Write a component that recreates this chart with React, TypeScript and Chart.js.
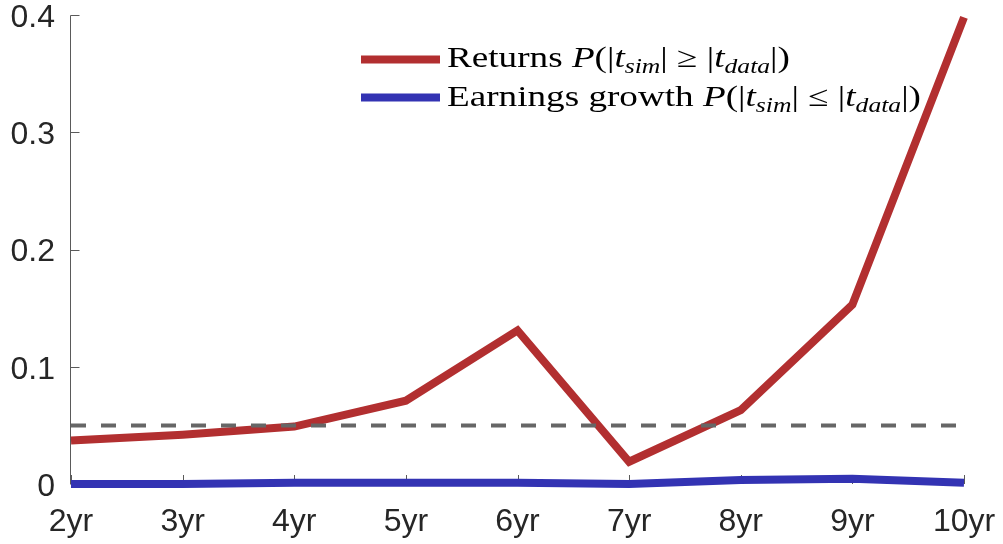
import React, { useEffect, useRef } from "react";
import { Chart, registerables } from "chart.js";

Chart.register(...registerables);

// ---------- data ----------
const horizons = ["2yr", "3yr", "4yr", "5yr", "6yr", "7yr", "8yr", "9yr", "10yr"];
const returnsP = [0.037, 0.042, 0.049, 0.071, 0.131, 0.019, 0.063, 0.153, 0.398];
const earningsP = [0.0, 0.0, 0.001, 0.001, 0.001, 0.0, 0.0035, 0.0045, 0.001];
const significance = [0.05, 0.05, 0.05, 0.05, 0.05, 0.05, 0.05, 0.05, 0.05];
const yTickValues = [0, 0.1, 0.2, 0.3, 0.4];
const yTickLabels = ["0", "0.1", "0.2", "0.3", "0.4"];

type Seg = { t: string; it?: boolean; sub?: boolean };
const returnsLabel: Seg[] = [
  { t: "Returns " },
  { t: "P", it: true },
  { t: "(|" },
  { t: "t", it: true },
  { t: "sim", it: true, sub: true },
  { t: "| \u2265 |" },
  { t: "t", it: true },
  { t: "data", it: true, sub: true },
  { t: "|)" },
];
const earningsLabel: Seg[] = [
  { t: "Earnings growth " },
  { t: "P", it: true },
  { t: "(|" },
  { t: "t", it: true },
  { t: "sim", it: true, sub: true },
  { t: "| \u2264 |" },
  { t: "t", it: true },
  { t: "data", it: true, sub: true },
  { t: "|)" },
];

// ---------- style ----------
const RED = "#b22f30";
const BLUE = "#3333b3";
const GRAY = "#666666";
const TEXT = "#262626";
const AXIS = "#5a5a5a";
const SANS = '"Liberation Sans", Arial, Helvetica, sans-serif';
const SERIF = '"Liberation Serif", "Times New Roman", serif';

const axesPlugin = {
  id: "matlabAxes",
  beforeDatasetsDraw(chart: any) {
    const { ctx, chartArea } = chart;
    const xs = chart.scales.x;
    const ys = chart.scales.y;
    const ax = Math.round(chartArea.left) - 0.5;
    const bottom = ys.getPixelForValue(0);
    ctx.save();
    ctx.strokeStyle = AXIS;
    ctx.lineWidth = 1;
    ctx.beginPath();
    ctx.moveTo(ax, Math.round(ys.getPixelForValue(0.4)) + 0.5);
    ctx.lineTo(ax, bottom);
    yTickValues.forEach((v) => {
      const py = Math.round(ys.getPixelForValue(v)) + 0.5;
      ctx.moveTo(ax, py);
      ctx.lineTo(ax + 9, py);
    });
    horizons.forEach((_, i) => {
      const px = Math.round(xs.getPixelForValue(i)) + 0.5;
      ctx.moveTo(px, bottom);
      ctx.lineTo(px, bottom - 9);
    });
    ctx.stroke();
    ctx.restore();
  },
};

const legendPlugin = {
  id: "mathLegend",
  afterDraw(chart: any) {
    const { ctx } = chart;
    const size = 29;
    const fontFor = (s: Seg) =>
      `${s.it ? "italic " : ""}${s.sub ? Math.round(size * 0.7) : size}px ${SERIF}`;
    const measure = (segs: Seg[]) =>
      segs.reduce((w, s) => {
        ctx.font = fontFor(s);
        return w + ctx.measureText(s.t).width;
      }, 0);
    const k = 474 / measure(earningsLabel);
    const entries = [
      { segs: returnsLabel, color: RED, ly: 59.5, by: 67 },
      { segs: earningsLabel, color: BLUE, ly: 97.5, by: 106 },
    ];
    ctx.save();
    entries.forEach((e) => {
      ctx.strokeStyle = e.color;
      ctx.lineWidth = 8;
      ctx.lineCap = "butt";
      ctx.beginPath();
      ctx.moveTo(361, e.ly);
      ctx.lineTo(440, e.ly);
      ctx.stroke();

      ctx.save();
      ctx.translate(447, e.by);
      ctx.scale(k, 1);
      ctx.fillStyle = "#000000";
      ctx.textBaseline = "alphabetic";
      ctx.textAlign = "left";
      let x = 0;
      e.segs.forEach((s) => {
        ctx.font = fontFor(s);
        ctx.fillText(s.t, x, s.sub ? size * 0.2 : 0);
        x += ctx.measureText(s.t).width;
      });
      ctx.restore();
    });
    ctx.restore();
  },
};

export default function App() {
  const canvasRef = useRef<HTMLCanvasElement | null>(null);

  useEffect(() => {
    document.body.style.margin = "0";
    const canvas = canvasRef.current;
    if (!canvas) return;
    const chart = new Chart(canvas, {
      type: "line",
      data: {
        labels: horizons,
        datasets: [
          {
            label: "5% level",
            data: significance,
            borderColor: GRAY,
            borderWidth: 4,
            borderDash: [15, 15],
            pointRadius: 0,
            tension: 0,
            clip: false as any,
            order: 0,
          },
          {
            label: "Returns",
            data: returnsP,
            borderColor: RED,
            borderWidth: 8,
            borderJoinStyle: "miter",
            borderCapStyle: "butt",
            pointRadius: 0,
            tension: 0,
            clip: false as any,
            order: 2,
          },
          {
            label: "Earnings growth",
            data: earningsP,
            borderColor: BLUE,
            borderWidth: 8,
            borderJoinStyle: "miter",
            borderCapStyle: "butt",
            pointRadius: 0,
            tension: 0,
            clip: false as any,
            order: 1,
          },
        ],
      },
      options: {
        animation: false,
        responsive: false,
        layout: { padding: { top: 15, right: 39, bottom: 0, left: 0 } },
        plugins: { legend: { display: false }, tooltip: { enabled: false } },
        scales: {
          x: {
            type: "category",
            offset: false,
            grid: { display: false, drawTicks: false },
            border: { display: false },
            ticks: {
              color: TEXT,
              font: { family: SANS, size: 32 },
              padding: 19,
              maxRotation: 0,
              autoSkip: false,
            },
            afterFit: (s: any) => {
              s.height = 60;
              s.paddingLeft = 0;
              s.paddingRight = 0;
            },
          },
          y: {
            type: "linear",
            min: 0,
            max: 0.4,
            grid: { display: false, drawTicks: false },
            border: { display: false },
            afterBuildTicks: (s: any) => {
              s.ticks = yTickValues.map((v) => ({ value: v }));
            },
            ticks: {
              color: TEXT,
              font: { family: SANS, size: 32 },
              padding: 16,
              labelOffset: 3,
              callback: (_v: any, i: number) => yTickLabels[i],
            },
            afterFit: (s: any) => {
              s.width = 71;
              s.paddingTop = 0;
              s.paddingBottom = 0;
            },
          },
        },
      },
      plugins: [axesPlugin, legendPlugin],
    });
    return () => chart.destroy();
  }, []);

  return (
    <div style={{ width: 1003, height: 544, background: "#ffffff" }}>
      <canvas ref={canvasRef} width={1003} height={544} style={{ display: "block" }} />
    </div>
  );
}
